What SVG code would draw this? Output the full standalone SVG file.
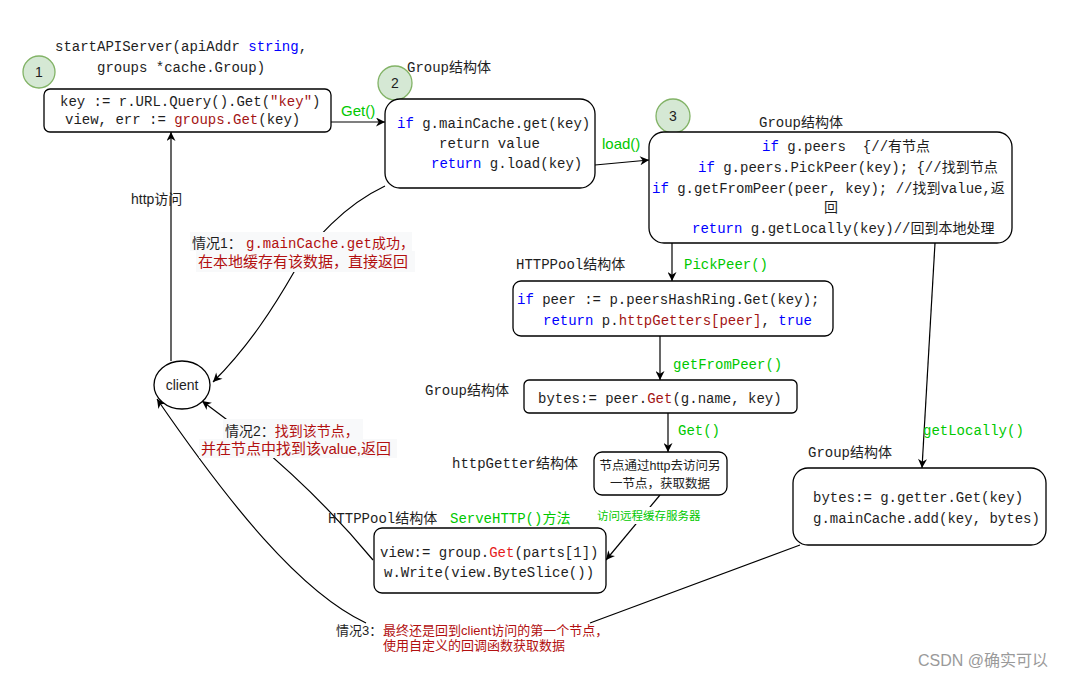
<svg xmlns="http://www.w3.org/2000/svg" width="1069" height="678" viewBox="0 0 1069 678">
<style>
.m{font-family:"Liberation Mono","DejaVu Sans Mono","Noto Sans CJK SC",monospace;font-size:14px;fill:#1e1e1e}
.s{font-family:"Liberation Sans","Noto Sans CJK SC",sans-serif;fill:#1e1e1e}
.kw{fill:#0000ff}
.rd{fill:#a31515}
.rd2{fill:#e51c1c}
.g{fill:#00c800}
.lr{fill:#b21010}
.box{fill:#fff;stroke:#000;stroke-width:1.3}
.num{fill:#d5e8d4;stroke:#82b366;stroke-width:1.3}
.ln{fill:none;stroke:#000;stroke-width:1.2}
.lb{fill:#f8f9fa}
</style>
<defs>
<marker id="ar" viewBox="0 0 10 10" refX="10" refY="5" markerWidth="10" markerHeight="9" markerUnits="userSpaceOnUse" orient="auto">
<path d="M0,0 L10,5 L0,10 L3,5 Z" fill="#000"/>
</marker>
</defs>

<g id="connectors">
<line class="ln" x1="331" y1="122" x2="385" y2="122" marker-end="url(#ar)"/>
<line class="ln" x1="595" y1="165" x2="649" y2="160" marker-end="url(#ar)"/>
<line class="ln" x1="672" y1="243" x2="672" y2="281" marker-end="url(#ar)"/>
<line class="ln" x1="660" y1="336" x2="660" y2="380" marker-end="url(#ar)"/>
<line class="ln" x1="668" y1="413" x2="668" y2="452" marker-end="url(#ar)"/>
<line class="ln" x1="660" y1="495" x2="606" y2="560" marker-end="url(#ar)"/>
<line class="ln" x1="935" y1="243" x2="922" y2="468" marker-end="url(#ar)"/>
<line class="ln" x1="171" y1="361" x2="171" y2="132" marker-end="url(#ar)"/>
<path class="ln" d="M385,186 C345,205 312,240 294,272 C275,305 250,345 213,382" marker-end="url(#ar)"/>
<path class="ln" d="M373,560 Q300,472 202,401" marker-end="url(#ar)"/>
<path class="ln" d="M366,623 C300,592 230,505 157,399" marker-end="url(#ar)"/>
<line class="ln" x1="800" y1="545" x2="590" y2="623"/>
</g>

<g id="title">
<text class="m" x="55" y="51">startAPIServer(apiAddr <tspan class="kw">string</tspan>,</text>
<text class="m" x="97" y="72">groups *cache.Group)</text>
</g>

<g id="n1">
<circle class="num" cx="39" cy="72" r="16"/>
<text class="s" x="39" y="77" font-size="14" text-anchor="middle">1</text>
</g>
<g id="node1">
<rect class="box" x="44" y="89" width="287" height="43" rx="6"/>
<text class="m" x="60" y="106">key := r.URL.Query().Get(<tspan class="rd">"key"</tspan>)</text>
<text class="m" x="65" y="124">view, err := <tspan class="rd">groups.Get</tspan>(key)</text>
</g>

<g id="n2">
<circle class="num" cx="395" cy="83" r="17"/>
<text class="s" x="395" y="88" font-size="14" text-anchor="middle">2</text>
</g>
<g id="node2">
<text class="m" x="407" y="72">Group结构体</text>
<rect class="box" x="385" y="99" width="210" height="89" rx="15"/>
<text class="m" x="397" y="128"><tspan class="kw">if</tspan> g.mainCache.get(key)</text>
<text class="m" x="439" y="148">return value</text>
<text class="m" x="431" y="168"><tspan class="kw">return</tspan> g.load(key)</text>
</g>

<g id="n3">
<circle class="num" cx="673" cy="116" r="17"/>
<text class="s" x="673" y="121" font-size="14" text-anchor="middle">3</text>
</g>
<g id="node3">
<text class="m" x="759" y="127">Group结构体</text>
<rect class="box" x="649" y="132" width="363" height="111" rx="15"/>
<text class="m" x="762" y="151" xml:space="preserve"><tspan class="kw">if</tspan> g.peers  {//有节点</text>
<text class="m" x="698" y="172"><tspan class="kw">if</tspan> g.peers.PickPeer(key); {//找到节点</text>
<text class="m" x="652" y="193"><tspan class="kw">if</tspan> g.getFromPeer(peer, key); //找到value,返</text>
<text class="m" x="824" y="212">回</text>
<text class="m" x="692" y="233"><tspan class="kw">return</tspan> g.getLocally(key)//回到本地处理</text>
</g>

<g id="node4">
<text class="m" x="516" y="269">HTTPPool结构体</text>
<rect class="box" x="513" y="281" width="320" height="55" rx="8"/>
<text class="m" x="517" y="304"><tspan class="kw">if</tspan> peer := p.peersHashRing.Get(key);</text>
<text class="m" x="543" y="325"><tspan class="kw">return</tspan> p.<tspan class="rd">httpGetters[peer]</tspan>, <tspan class="kw">true</tspan></text>
</g>

<g id="node5">
<text class="m" x="425" y="395">Group结构体</text>
<rect class="box" x="524" y="380" width="273" height="33" rx="5"/>
<text class="m" x="538" y="403">bytes:= peer.<tspan class="rd">Get</tspan>(g.name, key)</text>
</g>

<g id="node6">
<text class="m" x="452" y="468">httpGetter结构体</text>
<rect class="box" x="594" y="452" width="133" height="43" rx="8"/>
<text class="s" x="660" y="470" font-size="12.5" text-anchor="middle">节点通过http去访问另</text>
<text class="s" x="660" y="488" font-size="12.5" text-anchor="middle">一节点，获取数据</text>
</g>

<g id="node7">
<text class="m" x="328" y="523">HTTPPool结构体</text>
<text class="m g" x="450" y="523">ServeHTTP()方法</text>
<rect class="box" x="374" y="528" width="232" height="65" rx="8"/>
<text class="m" x="380" y="557">view:= group.<tspan class="rd2">Get</tspan>(parts[1])</text>
<text class="m" x="384" y="577">w.Write(view.ByteSlice())</text>
</g>

<g id="node8">
<text class="m" x="808" y="457">Group结构体</text>
<rect class="box" x="793" y="468" width="253" height="77" rx="15"/>
<text class="m" x="813" y="502">bytes:= g.getter.Get(key)</text>
<text class="m" x="813" y="523">g.mainCache.add(key, bytes)</text>
</g>

<g id="client">
<ellipse class="box" cx="182" cy="385" rx="28" ry="24"/>
<text class="s" x="182" y="390" font-size="14" text-anchor="middle">client</text>
</g>

<g id="labels">
<text class="s g" x="341" y="116" font-size="15">Get()</text>
<text class="s g" x="602" y="149" font-size="15">load()</text>
<text class="m g" x="684" y="269">PickPeer()</text>
<text class="m g" x="673" y="369">getFromPeer()</text>
<text class="m g" x="678" y="435">Get()</text>
<text class="m g" x="923" y="435">getLocally()</text>
<rect x="595" y="507" width="112" height="17" fill="#fff"/>
<text class="s g" x="597" y="520" font-size="11.5">访问远程缓存服务器</text>
<text class="s" x="131" y="204" font-size="14">http访问</text>

<rect class="lb" x="190" y="232" width="222" height="19"/>
<rect class="lb" x="196" y="251" width="219" height="21"/>
<text class="s" x="192" y="248" font-size="14">情况1：</text>
<text class="m lr" x="246" y="248" font-size="13.5">g.mainCache.get成功，</text>
<text class="s lr" x="198" y="267" font-size="15">在本地缓存有该数据，直接返回</text>

<rect class="lb" x="223" y="419" width="140" height="20"/>
<rect class="lb" x="199" y="439" width="198" height="19"/>
<text class="s" x="225" y="436" font-size="14">情况2：<tspan class="lr">找到该节点，</tspan></text>
<text class="s lr" x="201" y="454" font-size="15">并在节点中找到该value,返回</text>

<text class="s" x="336" y="635" font-size="13">情况3：</text>
<text class="s lr" x="383" y="635" font-size="13">最终还是回到client访问的第一个节点，</text>
<text class="s lr" x="383" y="650" font-size="13">使用自定义的回调函数获取数据</text>

<text class="s" x="918" y="666" font-size="16" style="fill:#9a9a9a">CSDN @确实可以</text>
</g>
</svg>
